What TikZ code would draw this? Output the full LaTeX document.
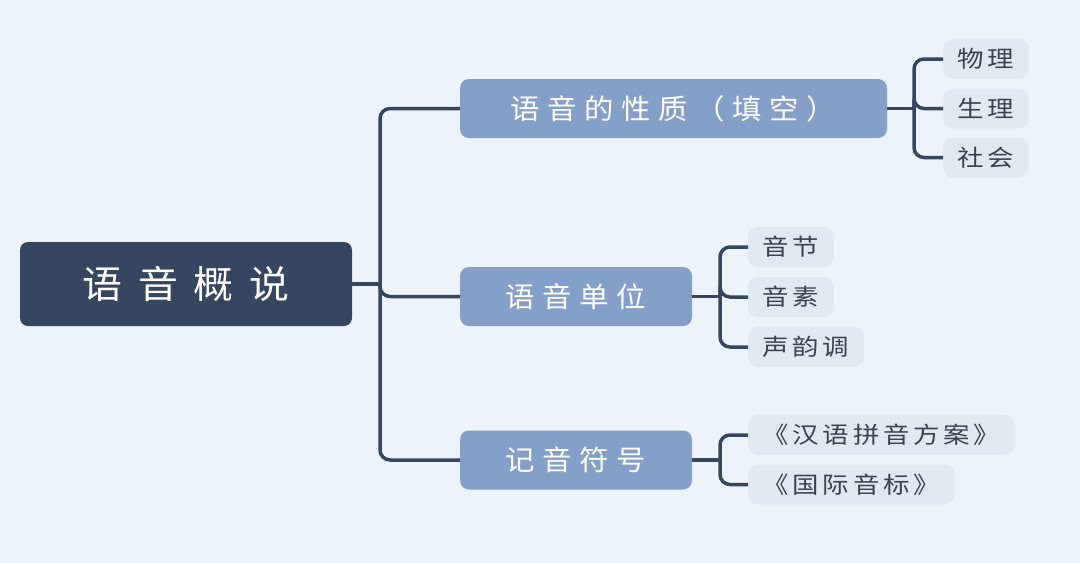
\documentclass[tikz,border=0pt]{standalone}
\usepackage{fontspec}
\usepackage{xcolor}
\usepackage{tikz}
\newfontfamily\rootfont[LetterSpace=42,FakeStretch=1.05]{Noto Sans CJK SC}
\newfontfamily\topicfont[LetterSpace=27,FakeStretch=1.05]{Noto Sans CJK SC}
\newfontfamily\leaffont[LetterSpace=16,FakeStretch=1.15]{Noto Sans CJK SC}
\definecolor{mapbg}{HTML}{EDF3FA}
\definecolor{mapnavy}{HTML}{354660}
\definecolor{maptopicfill}{HTML}{84A0C8}
\definecolor{mapleaffill}{HTML}{E1E8F1}
\definecolor{mapleaftext}{HTML}{3B4252}
\tikzset{
  maproot/.style={rectangle, rounded corners=8pt, fill=mapnavy, text=white, font=\rootfont\fontsize{38}{44}\selectfont, minimum width=332pt, minimum height=84pt, inner sep=0pt},
  maptopic/.style={rectangle, rounded corners=9pt, fill=maptopicfill, text=white, font=\topicfont\fontsize{28}{32}\selectfont, minimum width=232pt, minimum height=59pt, inner sep=0pt},
  mapleaf/.style={rectangle, rounded corners=10pt, fill=mapleaffill, text=mapleaftext, font=\leaffont\fontsize{23}{27}\selectfont, minimum height=40pt, inner xsep=14.5pt, inner ysep=0pt},
  mapline/.style={draw=mapnavy, line width=3.5pt, rounded corners=10pt}
}
\begin{document}
\begin{tikzpicture}[x=1pt, y=-1pt]
\fill[mapbg] (0,0) rectangle (1080,563);
\useasboundingbox (0,0) rectangle (1080,563);
\node[maproot] (root) at (186,284) {语音概说};
\node[maptopic, minimum width=427pt] (nature) at (673.5,108.5) {语音的性质（填空）};
\node[maptopic] (unit) at (576,296.5) {语音单位};
\node[maptopic] (notation) at (576,460) {记音符号};

\node[mapleaf, anchor=west] (physics) at (943,59) {物理};
\node[mapleaf, anchor=west] (physiology) at (943,108.5) {生理};
\node[mapleaf, anchor=west] (society) at (943,157.5) {社会};
\node[mapleaf, anchor=west] (syllable) at (748,247) {音节};
\node[mapleaf, anchor=west] (phoneme) at (748,297) {音素};
\node[mapleaf, anchor=west] (tone) at (748,347) {声韵调};
\node[mapleaf, anchor=west] (pinyin) at (748,435) {《汉语拼音方案》};
\node[mapleaf, anchor=west] (ipa) at (748,484.5) {《国际音标》};

\coordinate (trunk) at (380,284);
\coordinate (naturefork) at (914,108.5);
\coordinate (unitfork) at (720,296.5);
\coordinate (notationfork) at (720,460);

\draw[mapline] (root) -- (trunk);
\draw[mapline] (trunk) |- (nature);
\draw[mapline] (trunk) |- (unit);
\draw[mapline] (trunk) |- (notation);
\draw[mapline] (nature) -- (naturefork);
\draw[mapline] (naturefork) |- (physics);
\draw[mapline] (naturefork) |- (physiology);
\draw[mapline] (naturefork) |- (society);
\draw[mapline] (unit) -- (unitfork);
\draw[mapline] (unitfork) |- (syllable);
\draw[mapline] (unitfork) |- (phoneme);
\draw[mapline] (unitfork) |- (tone);
\draw[mapline] (notation) -- (notationfork);
\draw[mapline] (notationfork) |- (pinyin);
\draw[mapline] (notationfork) |- (ipa);
\end{tikzpicture}
\end{document}
